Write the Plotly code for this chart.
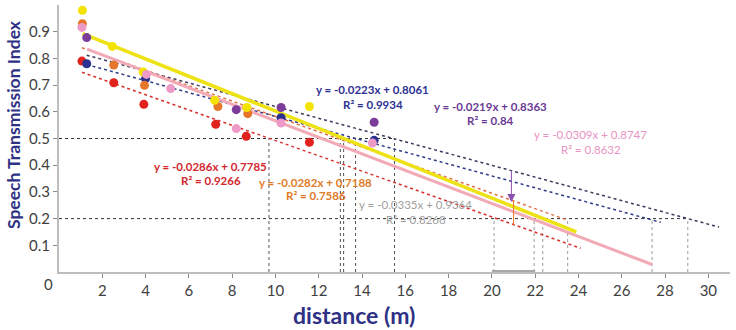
import plotly.graph_objects as go

# ---------------- data ----------------
colors = {"yellow": "#F2E300", "orange": "#E5772A", "pink": "#EE9AC8",
          "red": "#E0231D", "purple": "#7B3C9A", "navy": "#2A3190"}

yellow_x = [1.08, 2.46, 3.89, 7.19, 8.68, 11.57]
yellow_y = [0.98, 0.845, 0.749, 0.643, 0.616, 0.62]
orange_x = [1.08, 2.53, 3.95, 7.34, 8.72]
orange_y = [0.930, 0.775, 0.699, 0.620, 0.593]
pink_x = [1.06, 4.04, 5.16, 8.19, 10.26, 14.48]
pink_y = [0.916, 0.740, 0.687, 0.537, 0.558, 0.483]
red_x = [1.06, 2.53, 3.92, 7.24, 8.65, 11.57]
red_y = [0.790, 0.709, 0.628, 0.553, 0.508, 0.486]
purple_x = [1.28, 8.19, 10.26, 14.56]
purple_y = [0.878, 0.608, 0.616, 0.561]
navy_x = [1.28, 4.0, 10.26, 14.56]
navy_y = [0.780, 0.724, 0.578, 0.493]

# trend lines as drawn (start/end)
trend_yellow_x = [1.09, 23.9];  trend_yellow_y = [0.893, 0.150]
trend_pink_x = [1.30, 27.4];    trend_pink_y = [0.835, 0.028]
trend_purple_x = [1.28, 30.5];  trend_purple_y = [0.812, 0.168]
trend_navy_x = [1.28, 27.8];    trend_navy_y = [0.777, 0.186]
trend_orange_x = [1.06, 23.5];  trend_orange_y = [0.840, 0.194]
trend_red_x = [1.06, 24.1];     trend_red_y = [0.748, 0.089]

# equation labels
eq_text = {
    "navy": ("y = -0.0223x + 0.8061", "R² = 0.9934"),
    "purple": ("y = -0.0219x + 0.8363", "R² = 0.84"),
    "pink": ("y = -0.0309x + 0.8747", "R² = 0.8632"),
    "red": ("y = -0.0286x + 0.7785", "R² = 0.9266"),
    "orange": ("y = -0.0282x + 0.7188", "R² = 0.7586"),
    "grey": ("y = -0.0335x + 0.9364", "R² = 0.8268"),
}
eq_pos = {  # (x, y of first line, y of second line)
    "navy": (14.5, 0.683, 0.628),
    "purple": (19.95, 0.621, 0.568),
    "pink": (24.57, 0.515, 0.458),
    "red": (7.02, 0.396, 0.341),
    "orange": (11.85, 0.335, 0.285),
    "grey": (16.49, 0.252, 0.197),
}
eq_color = {"navy": "#2E3192", "purple": "#6A3B94", "pink": "#E793C3",
            "red": "#D2282E", "orange": "#E07B2A", "grey": "#9E9E9E"}
eq_bold = {"navy": True, "purple": True, "pink": False, "red": True,
           "orange": True, "grey": False}

# threshold reference lines
thr_high = 0.5
thr_high_end = 15.5
thr_high_x = [9.7, 13.0, 13.15, 13.7, 15.5]
thr_low = 0.2
thr_low_end = 29.05
thr_low_x = [20.1, 21.95, 22.35, 23.5, 27.4, 29.05]

x_ticks = [2, 4, 6, 8, 10, 12, 14, 16, 18, 20, 22, 24, 26, 28, 30]
y_ticks = [0.1, 0.2, 0.3, 0.4, 0.5, 0.6, 0.7, 0.8, 0.9]

FONT = "Lato"
L, R, T, B = 59, 6, 5, 58
W, H = 736, 330
PW, PH = W - L - R, H - T - B

def px_to_paper(px, py):
    return (px - L) / PW, (H - B - py) / PH

fig = go.Figure()

def seg_trace(xs, ys, color, width, dash):
    fig.add_trace(go.Scatter(x=xs, y=ys, mode="lines", hoverinfo="skip",
                             line=dict(color=color, width=width, dash=dash),
                             showlegend=False))

# reference dotted lines
hx, hy = [], []
for xv in thr_high_x:
    hx += [xv, xv, None]; hy += [0, thr_high, None]
seg_trace(hx, hy, "#555555", 1, "dot")
lx, ly = [], []
for xv in thr_low_x:
    lx += [xv, xv, None]; ly += [0, thr_low, None]
seg_trace(lx, ly, "#9A9A9A", 1, "dot")
seg_trace([0, thr_high_end], [thr_high, thr_high], "#333333", 1, "dot")
seg_trace([0, thr_low_end], [thr_low, thr_low], "#333333", 1, "dot")

# dotted trend lines
seg_trace(trend_purple_x, trend_purple_y, "#3E3A5E", 1.5, "3px,3px")
seg_trace(trend_navy_x, trend_navy_y, "#2E3A86", 1.5, "3px,3px")
seg_trace(trend_orange_x, trend_orange_y, "#E0704A", 1.5, "3px,3px")
seg_trace(trend_red_x, trend_red_y, "#D8322E", 1.5, "3px,3px")
# solid trend lines
seg_trace(trend_pink_x, trend_pink_y, "#F2AAB6", 3, "solid")
seg_trace(trend_yellow_x, trend_yellow_y, "#EDE214", 3.5, "solid")

# small marker details near x=21
seg_trace([21.0, 21.0], [0.27, 0.175], "#E5772A", 1, "solid")

# points
pts = {"yellow": (yellow_x, yellow_y), "orange": (orange_x, orange_y),
       "pink": (pink_x, pink_y), "red": (red_x, red_y),
       "purple": (purple_x, purple_y), "navy": (navy_x, navy_y)}
for name in ["red", "navy", "purple", "orange", "yellow", "pink"]:
    xs, ys = pts[name]
    fig.add_trace(go.Scatter(x=xs, y=ys, mode="markers", cliponaxis=False,
                             marker=dict(size=9, color=colors[name]),
                             showlegend=False, hoverinfo="skip"))

annotations = []
for k, (l1, l2) in eq_text.items():
    x, y1, y2 = eq_pos[k]
    for txt, yy in ((l1, y1), (l2, y2)):
        t = f"<b>{txt}</b>" if eq_bold[k] else txt
        annotations.append(dict(x=x, y=yy, xref="x", yref="y", text=t,
                                showarrow=False, xanchor="center", yanchor="middle",
                                font=dict(family=FONT, size=11.5, color=eq_color[k])))

# purple arrow
annotations.append(dict(x=20.9, y=0.262, ax=20.9, ay=0.385, xref="x", yref="y",
                        axref="x", ayref="y", text="", showarrow=True,
                        arrowhead=2, arrowsize=1.6, arrowwidth=1,
                        arrowcolor="#8A4FB0"))
# x "0" label
zx, zy = px_to_paper(48, 284)
annotations.append(dict(x=zx, y=zy, xref="paper", yref="paper", text="0",
                        showarrow=False, xanchor="center", yanchor="middle",
                        font=dict(family=FONT, size=15, color="#404040")))
# axis titles
tx, ty = px_to_paper(13, 125)
annotations.append(dict(x=tx, y=ty, xref="paper", yref="paper",
                        text="<b>Speech Transmission Index</b>", textangle=-90,
                        showarrow=False, xanchor="center", yanchor="middle",
                        font=dict(family=FONT, size=17.5, color="#2E3184")))
dx, dy = px_to_paper(354, 315)
annotations.append(dict(x=dx, y=dy, xref="paper", yref="paper",
                        text="<b>distance (m)</b>", showarrow=False,
                        xanchor="center", yanchor="middle",
                        font=dict(family=FONT, size=23, color="#2E3184")))

fig.update_layout(
    width=W, height=H,
    margin=dict(l=L, r=R, t=T, b=B),
    paper_bgcolor="white", plot_bgcolor="white",
    showlegend=False,
    annotations=annotations,
    shapes=[dict(type="line", xref="x", yref="y", x0=20, x1=22, y0=0, y1=0,
                 line=dict(color="#A8A8A8", width=4))],
    xaxis=dict(range=[0, 31], tickvals=x_ticks, showgrid=False, zeroline=False,
               showline=True, linecolor="#BDBDBD", linewidth=2,
               ticks="outside", ticklen=4, tickcolor="#8A8A8A",
               tickfont=dict(family=FONT, size=15, color="#404040")),
    yaxis=dict(range=[0, 1.0], tickvals=y_ticks, tickformat=".1f",
               showgrid=False, zeroline=False,
               showline=True, linecolor="#BDBDBD", linewidth=2,
               ticks="outside", ticklen=4, tickcolor="#8A8A8A",
               tickfont=dict(family=FONT, size=15, color="#404040")),
)

fig.write_html("out.html", config={"displayModeBar": False},
               post_script="document.body.style.margin='0';document.body.style.overflow='hidden';")
